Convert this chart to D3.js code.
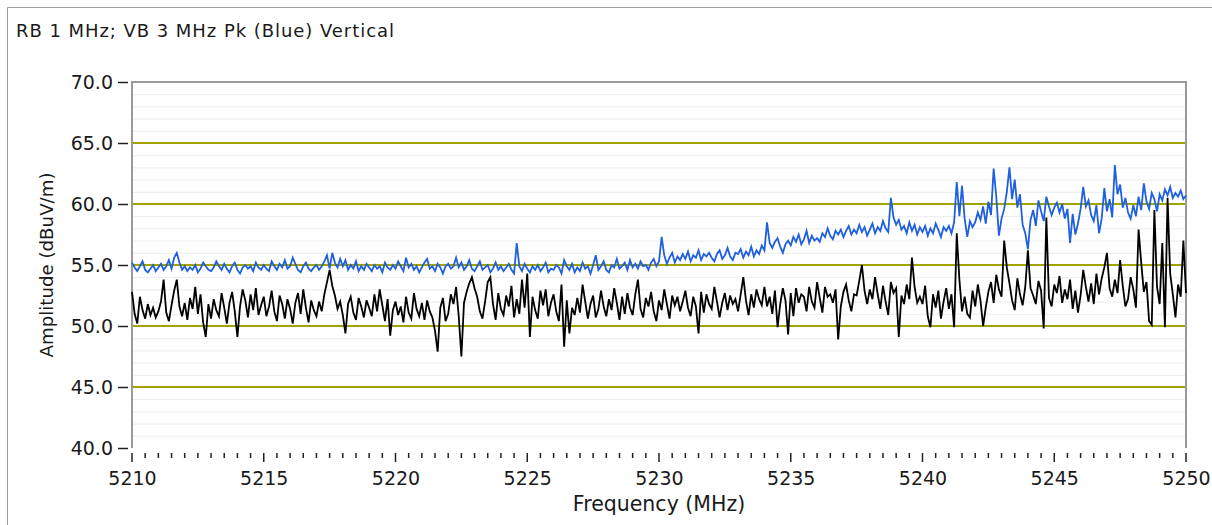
<!DOCTYPE html>
<html>
<head>
<meta charset="utf-8">
<script src="https://cdn.jsdelivr.net/npm/d3@7/dist/d3.min.js"></script>
<style>
    body { margin: 0; background: #ffffff; }
    svg text { font-family: "DejaVu Sans", sans-serif; fill: #1a1a1a; }
</style>
</head>
<body>
<svg width="1212" height="525"></svg>
<script>
var title_text = 'RB 1 MHz; VB 3 MHz Pk (Blue) Vertical';
var x_label = 'Frequency (MHz)';
var y_label = 'Amplitude (dBuV/m)';

var freq_ticks = [5210, 5215, 5220, 5225, 5230, 5235, 5240, 5245, 5250];
var amp_ticks = [40, 45, 50, 55, 60, 65, 70];

// sweep: 5210 - 5250 MHz, one reading every 0.1 MHz
var sweep_start = 5210;
var sweep_step = 0.1;

// peak detector (blue), one row per MHz
var peak_trace = [
    55.2,54.8,54.5,54.9,55.3,54.6,54.4,54.7,55.0,54.5,
    54.8,55.1,54.6,54.9,55.4,54.7,55.6,56.0,55.2,54.6,
    54.9,54.5,54.8,54.6,55.0,54.4,54.7,55.2,54.9,54.6,
    54.5,54.8,55.3,54.9,54.6,55.1,54.7,54.4,54.9,55.2,
    54.6,54.3,54.8,55.0,54.7,54.9,54.5,55.2,54.8,54.6,
    55.0,54.7,54.5,55.3,54.9,54.6,55.1,54.8,55.4,54.7,
    54.9,55.6,55.1,54.6,54.4,54.9,55.2,54.7,54.5,54.8,
    55.0,54.6,54.9,55.3,55.8,54.7,56.0,55.2,54.8,55.5,
    54.9,55.4,54.6,55.0,54.7,55.3,54.5,54.9,54.6,55.1,
    54.8,54.5,55.0,54.7,54.9,54.4,55.2,54.8,54.6,55.0,
    54.7,55.3,54.9,54.5,55.6,54.8,55.1,54.6,54.9,54.4,
    54.8,55.2,55.5,54.7,54.9,54.5,55.1,54.8,54.3,54.9,
    55.1,54.7,54.9,55.6,54.8,55.2,54.6,54.9,55.4,54.7,
    54.5,54.9,55.3,54.6,54.8,55.0,54.4,54.7,55.2,54.6,
    54.9,54.5,54.8,55.1,54.6,54.3,56.8,54.9,54.5,55.1,
    54.7,54.4,54.9,54.6,55.0,54.5,54.8,55.2,54.4,54.7,
    54.6,55.0,54.8,54.3,55.4,54.9,54.6,55.1,54.4,54.8,
    54.5,55.2,54.7,54.9,54.3,55.0,55.8,54.6,54.9,55.3,
    54.6,54.4,55.0,54.8,55.5,54.7,54.9,55.2,54.6,55.4,
    54.8,55.1,54.7,55.3,54.9,55.0,54.6,55.2,55.5,54.9,
    55.3,57.3,55.8,55.1,55.6,56.0,55.2,55.7,55.4,55.9,
    55.5,56.1,55.3,55.8,55.6,56.2,55.4,55.9,55.7,56.0,
    55.6,55.3,55.9,56.2,55.5,55.8,56.4,55.7,55.4,56.0,
    55.9,56.3,55.6,56.1,55.8,56.5,55.7,56.2,55.9,56.6,
    56.2,58.5,56.8,56.4,56.9,57.2,56.5,56.0,56.7,57.0,
    56.6,57.3,56.9,57.5,56.7,57.1,57.8,56.8,57.4,57.0,
    57.2,56.9,57.6,57.3,58.0,57.4,57.1,57.8,57.5,57.9,
    57.3,57.8,58.2,57.5,57.9,57.6,58.3,57.7,58.1,57.4,
    57.9,58.4,57.6,58.1,57.8,58.6,58.0,57.7,60.5,58.9,
    58.3,58.7,57.9,58.2,57.6,58.5,57.8,58.3,57.5,58.1,
    57.7,58.2,57.4,58.0,57.6,58.4,57.9,57.3,58.1,57.8,
    58.2,57.6,58.5,61.8,59.0,61.5,58.8,57.3,58.6,58.1,
    58.5,59.3,58.7,59.8,58.4,60.2,59.1,62.9,60.6,57.4,
    58.8,59.6,61.0,63.0,60.4,62.0,59.7,60.8,58.3,57.6,
    56.3,58.7,59.5,58.2,60.3,59.4,58.6,60.6,59.8,59.1,
    59.7,60.1,59.3,60.0,58.8,59.6,56.8,59.2,57.5,58.4,
    59.6,61.4,59.8,60.3,59.1,58.6,59.9,57.6,58.8,61.3,
    59.4,60.4,58.9,63.2,60.8,61.6,59.7,60.5,59.3,58.8,
    59.9,59.0,60.6,59.5,61.7,60.2,59.6,60.9,60.4,59.4,
    60.8,60.3,61.2,60.7,61.4,60.5,60.9,60.6,61.1,60.4,
    60.7
];

// average detector (black), one row per MHz
var average_trace = [
    52.8,51.0,50.2,52.4,51.3,50.6,51.8,50.9,51.5,50.7,
    51.2,52.0,53.8,51.1,50.4,51.7,52.9,53.8,51.6,50.8,
    51.9,50.5,52.3,51.4,53.2,51.0,52.6,50.3,49.1,51.8,
    50.6,52.2,51.3,50.8,52.7,51.5,50.2,51.9,52.8,51.2,
    49.1,51.6,53.0,52.1,50.7,52.6,51.3,53.1,50.9,51.7,
    52.4,50.8,51.6,52.9,51.2,50.4,52.5,51.8,50.6,52.2,
    51.4,50.2,51.9,52.7,51.0,53.0,51.5,50.3,52.1,51.3,
    50.8,52.0,51.2,52.6,53.6,54.6,53.3,52.5,51.4,52.0,
    50.9,49.4,51.8,52.4,51.1,50.5,52.3,51.6,50.7,52.1,
    51.5,50.8,52.6,51.2,53.0,51.7,50.4,52.2,49.2,51.3,
    52.0,50.9,51.6,50.3,52.4,51.1,50.6,52.7,51.4,50.8,
    51.9,50.5,52.1,51.2,50.7,49.6,47.9,51.5,52.3,50.4,
    51.0,52.6,51.8,53.2,50.8,47.5,51.9,52.8,53.5,54.0,
    53.1,52.4,51.2,50.6,52.0,53.6,54.0,51.8,50.5,52.7,
    51.4,50.9,52.5,51.6,53.3,50.7,52.2,51.0,53.8,51.5,
    54.3,49.1,52.4,51.3,50.6,52.9,51.7,53.0,50.8,51.9,
    52.6,51.2,50.4,53.4,48.3,52.1,49.4,51.5,50.9,52.3,
    51.1,53.4,52.0,50.6,51.8,52.5,50.7,51.4,52.9,51.6,
    50.8,52.2,51.3,53.1,51.9,50.5,52.4,51.0,52.7,51.5,
    50.9,52.6,53.8,51.4,50.7,52.3,51.6,52.8,51.2,50.4,
    52.1,51.3,53.0,51.8,50.6,52.5,51.7,52.4,51.2,52.0,
    52.9,51.5,50.8,52.4,51.6,49.4,52.8,51.1,52.6,51.8,
    51.4,53.2,52.0,50.7,51.9,52.7,51.3,52.5,51.8,52.2,
    51.2,52.6,54.0,52.1,50.9,52.6,51.5,53.0,52.2,51.7,
    53.2,51.6,52.4,51.0,52.9,49.9,51.8,53.1,52.1,49.3,
    52.7,50.8,53.1,51.9,52.6,52.4,51.2,53.2,52.0,51.5,
    53.6,52.3,51.1,53.2,52.4,52.6,51.9,53.0,48.9,51.6,
    52.8,53.4,52.1,51.2,52.6,52.5,53.7,55.0,52.9,51.8,
    53.0,52.2,54.0,52.6,51.4,53.3,52.0,50.9,53.6,52.7,
    53.1,49.1,52.5,51.8,53.4,52.2,55.6,53.2,51.9,52.4,
    51.8,53.3,50.8,49.9,52.6,51.5,52.9,50.6,52.0,53.1,
    51.4,52.6,49.9,57.6,53.8,51.2,52.4,51.0,50.7,52.9,
    51.6,53.4,52.1,50.0,51.5,52.8,53.6,51.9,54.2,53.0,
    52.4,57.0,54.8,53.5,52.1,51.3,53.9,52.6,51.7,53.2,
    56.2,53.1,52.5,51.8,53.7,52.9,49.8,58.9,52.3,51.6,
    53.4,52.7,54.1,51.9,53.0,52.2,53.8,51.4,52.9,51.1,
    52.5,54.6,53.2,52.0,53.5,51.8,54.3,52.6,53.9,54.8,
    56.0,53.1,52.4,53.8,52.7,55.4,53.3,51.6,52.2,54.0,
    53.0,51.5,57.9,55.2,52.8,53.6,50.4,50.1,59.5,53.2,
    51.8,56.8,49.9,60.5,54.3,52.6,50.7,53.4,52.4,57.0,
    52.7
];

var emc = emc || {};

emc.chart = function() {
    'use strict';

    var plot = { left: 132, right: 1186, top: 82, bottom: 448 };

    var x = d3.scaleLinear().domain([5210, 5250]).range([plot.left, plot.right]);
    var y = d3.scaleLinear().domain([40, 70]).range([plot.bottom, plot.top]);

    function freq_of(i) {
        return sweep_start + i * sweep_step;
    }

    function draw_trace(svg, values, colour) {
        var line = d3.line()
            .x(function(v, i) { return x(freq_of(i)); })
            .y(function(v) { return y(v); });
        svg.append('path')
            .datum(values)
            .attr('d', line)
            .attr('fill', 'none')
            .attr('stroke', colour)
            .attr('stroke-width', 1.8)
            .attr('stroke-linejoin', 'miter');
    }

    return {
        apply_to_page: function() {
            var svg = d3.select('svg');

            // outer frame
            svg.append('path')
                .attr('d', 'M7.5,530V7.5H1220')
                .attr('fill', 'none')
                .attr('stroke', '#a0a0a0');

            svg.append('text')
                .attr('x', 16).attr('y', 37)
                .attr('textLength', 378)
                .attr('lengthAdjust', 'spacing')
                .style('font-size', '18px')
                .text(title_text);

            // minor grid every 1 dB
            var minor = d3.range(41, 70).filter(function(v) { return v % 5 !== 0; });
            svg.append('g').selectAll('line')
                .data(minor).enter().append('line')
                .attr('x1', plot.left).attr('x2', plot.right)
                .attr('y1', function(v) { return y(v) + 0.5; })
                .attr('y2', function(v) { return y(v) + 0.5; })
                .attr('stroke', '#ececec');

            // major grid
            svg.append('g').selectAll('line')
                .data(amp_ticks.slice(1, -1)).enter().append('line')
                .attr('x1', plot.left).attr('x2', plot.right)
                .attr('y1', function(v) { return y(v); })
                .attr('y2', function(v) { return y(v); })
                .attr('stroke', '#a3a300')
                .attr('stroke-width', 2);

            // plot border (top, right, left)
            svg.append('path')
                .attr('d', 'M' + plot.left + ',' + plot.bottom + 'V' + plot.top + 'H' + plot.right + 'V' + plot.bottom)
                .attr('fill', 'none')
                .attr('stroke', '#9a9a9a')
                .attr('stroke-width', 2);

            draw_trace(svg, peak_trace, '#1f5fe0');
            draw_trace(svg, average_trace, '#000000');

            // y axis
            var y_axis = d3.axisLeft(y)
                .tickValues(amp_ticks)
                .tickFormat(d3.format('.1f'))
                .tickSize(10)
                .tickPadding(5);
            var gy = svg.append('g')
                .attr('transform', 'translate(' + (plot.left - 4) + ',0)')
                .call(y_axis);
            gy.select('.domain').remove();
            gy.selectAll('.tick line').attr('stroke', '#222').attr('stroke-width', 1.5);
            gy.selectAll('.tick text')
                .style('font-family', '"DejaVu Sans", sans-serif')
                .style('font-size', '19px')
                .attr('fill', '#1a1a1a');

            // x axis: minor ticks every 0.5 MHz
            var minor_f = d3.range(0, 81).map(function(k) { return 5210 + k * 0.5; });
            svg.append('g').selectAll('line')
                .data(minor_f).enter().append('line')
                .attr('x1', function(f) { return x(f); })
                .attr('x2', function(f) { return x(f); })
                .attr('y1', plot.bottom + 5)
                .attr('y2', function(f, k) { return plot.bottom + (k % 10 === 0 ? 14 : 10); })
                .attr('stroke', '#222')
                .attr('stroke-width', 1.5);

            var x_axis = d3.axisBottom(x)
                .tickValues(freq_ticks)
                .tickFormat(d3.format('d'))
                .tickSize(0)
                .tickPadding(0);
            var gx = svg.append('g')
                .attr('transform', 'translate(0,' + (plot.bottom + 23) + ')')
                .call(x_axis);
            gx.select('.domain').remove();
            gx.selectAll('.tick text')
                .style('font-family', '"DejaVu Sans", sans-serif')
                .style('font-size', '19px')
                .attr('fill', '#1a1a1a');

            svg.append('text')
                .attr('x', (plot.left + plot.right) / 2).attr('y', 511)
                .attr('text-anchor', 'middle')
                .style('font-size', '20.5px')
                .text(x_label);

            svg.append('text')
                .attr('transform', 'translate(53,' + (plot.top + plot.bottom) / 2 + ') rotate(-90)')
                .attr('text-anchor', 'middle')
                .style('font-size', '18.2px')
                .text(y_label);
        }
    };
};

emc.chart().apply_to_page();
</script>
</body>
</html>
